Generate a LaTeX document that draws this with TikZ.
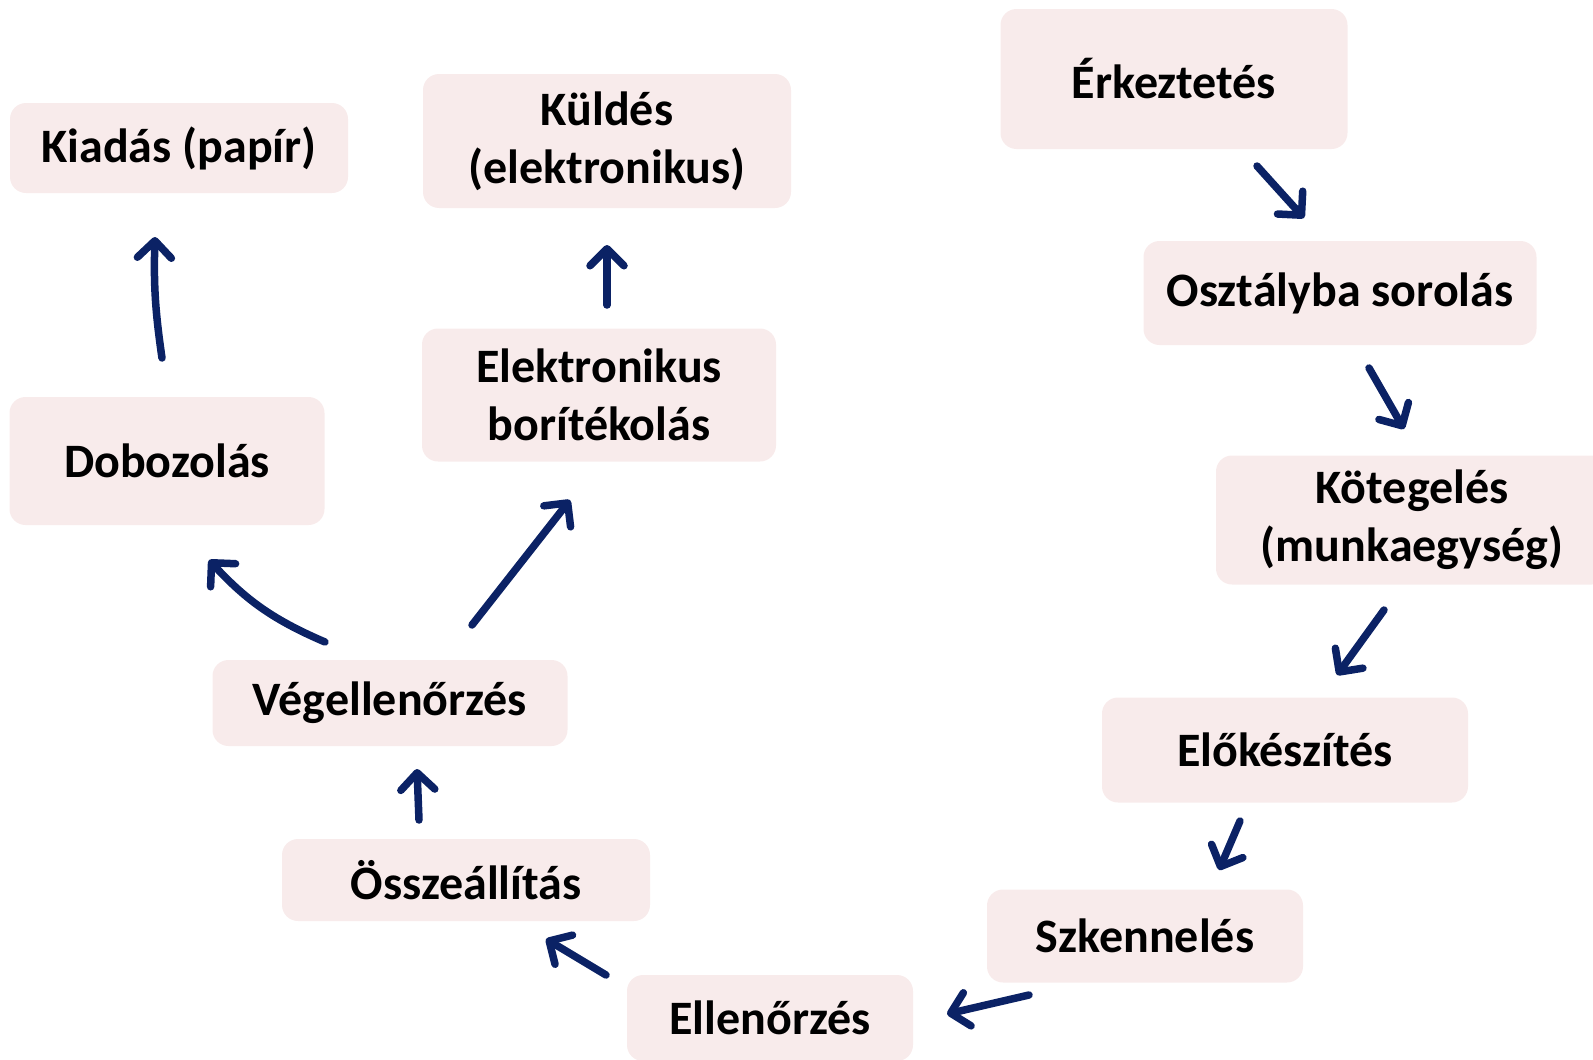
\documentclass[tikz,border=0pt]{standalone}
\usepackage{fontspec}
\setmainfont{Carlito}
\usetikzlibrary{arrows.meta}
\definecolor{boxfill}{HTML}{F8EBEB}
\definecolor{navy}{HTML}{0B2265}
\begin{document}
\begin{tikzpicture}[x=1pt,y=-1pt,
  box/.style={fill=boxfill, rounded corners=16pt, inner sep=0pt, align=center,
    font=\fontsize{48}{58}\selectfont\bfseries, text=black},
  arr/.style={draw=navy, line width=7.5pt, line cap=round,
    -{Straight Barb[length=17pt, width=34pt, round]}}]
\useasboundingbox (0,0) rectangle (1593,1060);
\node[box, minimum width=338pt, minimum height=90pt] (kiadas) at (179,148) {Kiadás (papír)};
\node[box, minimum width=368pt, minimum height=134pt] (kuldes) at (607,141) {Küldés\\(elektronikus)};
\node[box, minimum width=347pt, minimum height=140pt] (erk) at (1174,79) {Érkeztetés};
\node[box, minimum width=393pt, minimum height=104pt] (oszt) at (1340,293) {Osztályba sorolás};
\node[box, minimum width=392pt, minimum height=129pt] (koteg) at (1412,520) {Kötegelés\\(munkaegység)};
\node[box, minimum width=354pt, minimum height=133pt] (elek) at (599,395) {Elektronikus\\borítékolás};
\node[box, minimum width=315pt, minimum height=128pt] (doboz) at (167,461) {Dobozolás};
\node[box, minimum width=355pt, minimum height=86pt] (veg) at (390,703) {Végellenőrzés};
\node[box, minimum width=366pt, minimum height=105pt] (elok) at (1285,750) {Előkészítés};
\node[box, minimum width=368pt, minimum height=82pt] (ossze) at (466,880) {Összeállítás};
\node[box, minimum width=316pt, minimum height=93pt] (szk) at (1145,936) {Szkennelés};
\node[box, minimum width=286pt, minimum height=86pt] (ell) at (770,1018) {Ellenőrzés};
% arrow end points
\coordinate (a1s) at (1257,166); \coordinate (a1e) at (1304,218);
\coordinate (a2s) at (1369,368); \coordinate (a2e) at (1404,429);
\coordinate (a3s) at (1384,610); \coordinate (a3e) at (1337,675);
\coordinate (a4s) at (1240,821); \coordinate (a4e) at (1219,870);
\coordinate (a5s) at (1029,995); \coordinate (a5e) at (947,1014);
\coordinate (a6s) at (606,975);  \coordinate (a6e) at (546,939);
\coordinate (a7s) at (419,820);  \coordinate (a7e) at (417,769);
\coordinate (a8s) at (325,642);  \coordinate (a8e) at (209,560);
\coordinate (a9s) at (472,625);  \coordinate (a9e) at (570,500);
\coordinate (a10s) at (607,305); \coordinate (a10e) at (607,245);
\coordinate (a11s) at (162,358); \coordinate (a11e) at (155,237);
\draw[arr] (a1s) -- (a1e);
\draw[arr] (a2s) -- (a2e);
\draw[arr] (a3s) -- (a3e);
\draw[arr] (a4s) -- (a4e);
\draw[arr] (a5s) -- (a5e);
\draw[arr] (a6s) -- (a6e);
\draw[arr] (a7s) -- (a7e);
\draw[arr] (a8s) to[bend left=12] (a8e);
\draw[arr] (a9s) -- (a9e);
\draw[arr] (a10s) -- (a10e);
\draw[arr] (a11s) to[bend left=5] (a11e);
\end{tikzpicture}
\end{document}
